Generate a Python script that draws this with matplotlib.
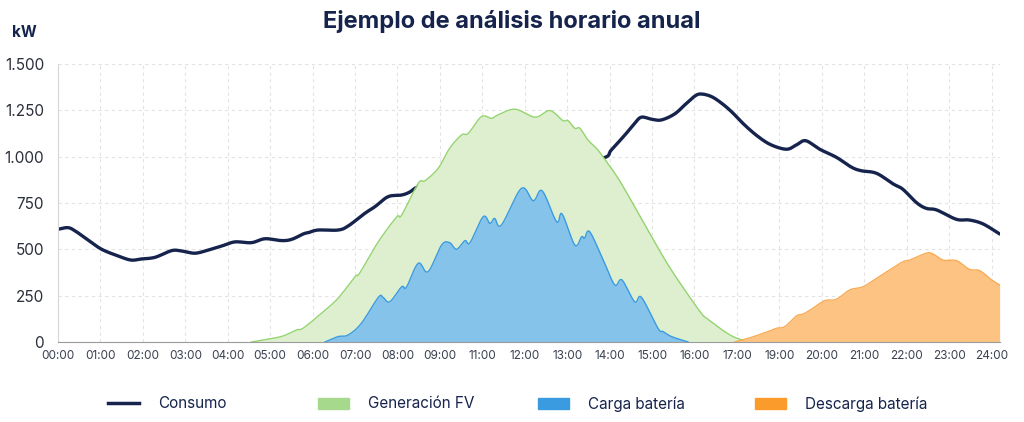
import numpy as np
import matplotlib.pyplot as plt
from matplotlib.patches import Patch
from matplotlib.lines import Line2D

plt.rcParams['font.family'] = ['Inter', 'DejaVu Sans']

# x is measured in tick positions (0 = 00:00 ... 22 = 24:00)
tick_labels = ['00:00', '01:00', '02:00', '03:00', '04:00', '05:00', '06:00', '07:00',
               '08:00', '09:00', '11:00', '12:00', '13:00', '14:00', '15:00', '16:00',
               '17:00', '19:00', '20:00', '21:00', '22:00', '23:00', '24:00']

cons_x = [0.0, 0.23, 0.40, 0.71, 1.03, 1.42, 1.72, 1.97, 2.29, 2.68, 2.91, 3.23, 3.54,
          3.86, 4.17, 4.56, 4.88, 5.27, 5.51, 5.78, 5.90, 6.13, 6.60, 6.84, 7.23, 7.47,
          7.78, 8.10, 8.29, 8.49, 9.0, 10.0, 11.0, 12.0, 12.86, 13.04, 13.36, 13.59,
          13.75, 13.99, 14.22, 14.53, 14.77, 15.01, 15.16, 15.40, 15.64, 15.87, 16.18,
          16.50, 16.81, 17.17, 17.40, 17.62, 17.95, 18.34, 18.70, 18.93, 19.29, 19.68,
          19.91, 20.23, 20.46, 20.71, 21.17, 21.48, 21.80, 22.19]
cons_y = [608, 617, 600, 550, 500, 464, 442, 448, 457, 493, 491, 479, 496,
          518, 540, 536, 557, 547, 554, 583, 590, 604, 604, 626, 694, 730,
          784, 793, 809, 838, 870, 900, 950, 975, 994, 1036, 1117, 1180,
          1213, 1202, 1198, 1230, 1279, 1327, 1338, 1324, 1288, 1243, 1171,
          1108, 1063, 1040, 1063, 1086, 1040, 997, 943, 924, 910, 853,
          824, 752, 721, 712, 662, 658, 637, 583]

fv_x = [4.56, 4.92, 5.30, 5.62, 5.78, 6.21, 6.60, 7.00, 7.11, 7.55, 7.98, 8.10, 8.49,
        8.65, 8.96, 9.23, 9.51, 9.67, 9.98, 10.22, 10.37, 10.77, 11.24, 11.55, 11.71,
        11.90, 12.02, 12.18, 12.30, 12.49, 12.69, 12.86, 13.20, 13.59, 13.99, 14.38,
        14.77, 15.16, 15.32, 15.71, 15.95, 16.18, 16.30]
fv_y = [0, 14, 32, 65, 75, 155, 236, 352, 372, 541, 674, 685, 856,
        870, 937, 1045, 1117, 1126, 1216, 1207, 1225, 1256, 1213, 1248, 1234,
        1194, 1194, 1153, 1153, 1090, 1045, 994, 883, 730, 568, 415,
        281, 155, 122, 56, 25, 7, 0]

carga_x = [6.29, 6.60, 6.84, 7.15, 7.55, 7.66, 7.82, 8.10, 8.21, 8.49, 8.72, 9.04, 9.23,
           9.39, 9.59, 9.71, 10.02, 10.18, 10.29, 10.45, 10.92, 11.20, 11.41, 11.75,
           11.88, 12.18, 12.34, 12.41, 12.53, 12.85, 13.12, 13.29, 13.59, 13.75, 14.14,
           14.26, 14.46, 14.85]
carga_y = [0, 29, 38, 101, 241, 241, 217, 298, 295, 425, 379, 523, 536,
           500, 547, 536, 676, 640, 667, 631, 829, 762, 816, 649,
           691, 523, 568, 560, 595, 442, 308, 335, 217, 241, 74,
           56, 29, 0]

desc_x = [15.95, 16.34, 16.73, 16.93, 17.13, 17.40, 17.56, 17.75, 18.07, 18.34, 18.66,
          18.97, 19.29, 19.60, 19.91, 20.07, 20.46, 20.62, 20.86, 21.17, 21.48, 21.72,
          22.00, 22.19]
desc_y = [0, 25, 56, 74, 83, 140, 151, 176, 223, 230, 281,
          298, 344, 389, 433, 442, 479, 475, 442, 439, 392, 385,
          335, 308]

navy = '#16244d'


def smooth(x, y, n=8):
    # catmull-rom through the read points, only to round the drawn curve
    x = np.asarray(x, float)
    y = np.asarray(y, float)
    px = np.concatenate([[x[0]], x, [x[-1]]])
    py = np.concatenate([[y[0]], y, [y[-1]]])
    t = np.linspace(0, 1, n, endpoint=False)
    ox, oy = [], []
    for i in range(1, len(px) - 2):
        for arr, out in ((px, ox), (py, oy)):
            p0, p1, p2, p3 = arr[i - 1], arr[i], arr[i + 1], arr[i + 2]
            out.extend(0.5 * (2 * p1 + (-p0 + p2) * t + (2 * p0 - 5 * p1 + 4 * p2 - p3) * t ** 2
                              + (-p0 + 3 * p1 - 3 * p2 + p3) * t ** 3))
    ox.append(x[-1])
    oy.append(y[-1])
    return np.array(ox), np.clip(np.array(oy), 0, None)


fig = plt.figure(figsize=(10.24, 4.22), dpi=100)
ax = fig.add_axes([0.0566, 0.1896, 0.9200, 0.6588])

sx, sy = smooth(cons_x, cons_y)
ax.plot(sx, sy, color=navy, lw=2.4, solid_capstyle='round', zorder=2)
sx, sy = smooth(fv_x, fv_y)
ax.fill_between(sx, sy, color='#deefd0', lw=0, zorder=3)
ax.plot(sx, sy, color='#93d46e', lw=1.0, zorder=3.1)
sx, sy = smooth(carga_x, carga_y)
ax.fill_between(sx, sy, color='#86c3eb', lw=0, zorder=4)
ax.plot(sx, sy, color='#3a9be0', lw=1.0, zorder=4.1)
sx, sy = smooth(desc_x, desc_y)
ax.fill_between(sx, sy, color='#fdc383', lw=0, zorder=4)
ax.plot(sx, sy, color='#f9ab52', lw=1.0, zorder=4.1)

ax.set_xlim(0, 22.2)
ax.set_ylim(0, 1500)
ax.set_xticks(range(len(tick_labels)))
ax.set_xticklabels(tick_labels, fontsize=8.5, color='#3a4150')
yt = [0, 250, 500, 750, 1000, 1250, 1500]
ax.set_yticks(yt)
ax.set_yticklabels([f'{v:,}'.replace(',', '.') for v in yt], fontsize=11, color='#2b2f3a')
ax.tick_params(length=0, pad=6)
ax.tick_params(axis='y', pad=10)
ax.grid(True, color='#e3e3e3', ls=(0, (3, 3)), lw=0.8, zorder=0)
ax.set_axisbelow(True)
for s in ['top', 'right']:
    ax.spines[s].set_visible(False)
ax.spines['left'].set_color('#d6d6d6')
ax.spines['bottom'].set_color('#9a9a9a')
ax.spines['bottom'].set_zorder(5)

fig.text(0.5, 0.950, 'Ejemplo de análisis horario anual', ha='center', va='center',
         fontsize=17, fontweight='bold', color=navy)
fig.text(0.012, 0.922, 'kW', ha='left', va='center', fontsize=11,
         fontweight='bold', color=navy)

handles = [Line2D([], [], color=navy, lw=2.5),
           Patch(color='#a6d98b'),
           Patch(color='#3a9be0'),
           Patch(color='#fb9b2b')]
labels = ['Consumo', 'Generación FV', 'Carga batería', 'Descarga batería']
starts = [108, 318, 538, 755]
for h, lab, x0 in zip(handles, labels, starts):
    fig.legend([h], [lab], loc='center left', bbox_to_anchor=(x0 / 1024, 1 - 404 / 422),
               frameon=False, fontsize=11, handlelength=2.0, handletextpad=1.25,
               borderpad=0, borderaxespad=0, labelcolor=navy)

fig.savefig('out.png', dpi=100, facecolor='white')
